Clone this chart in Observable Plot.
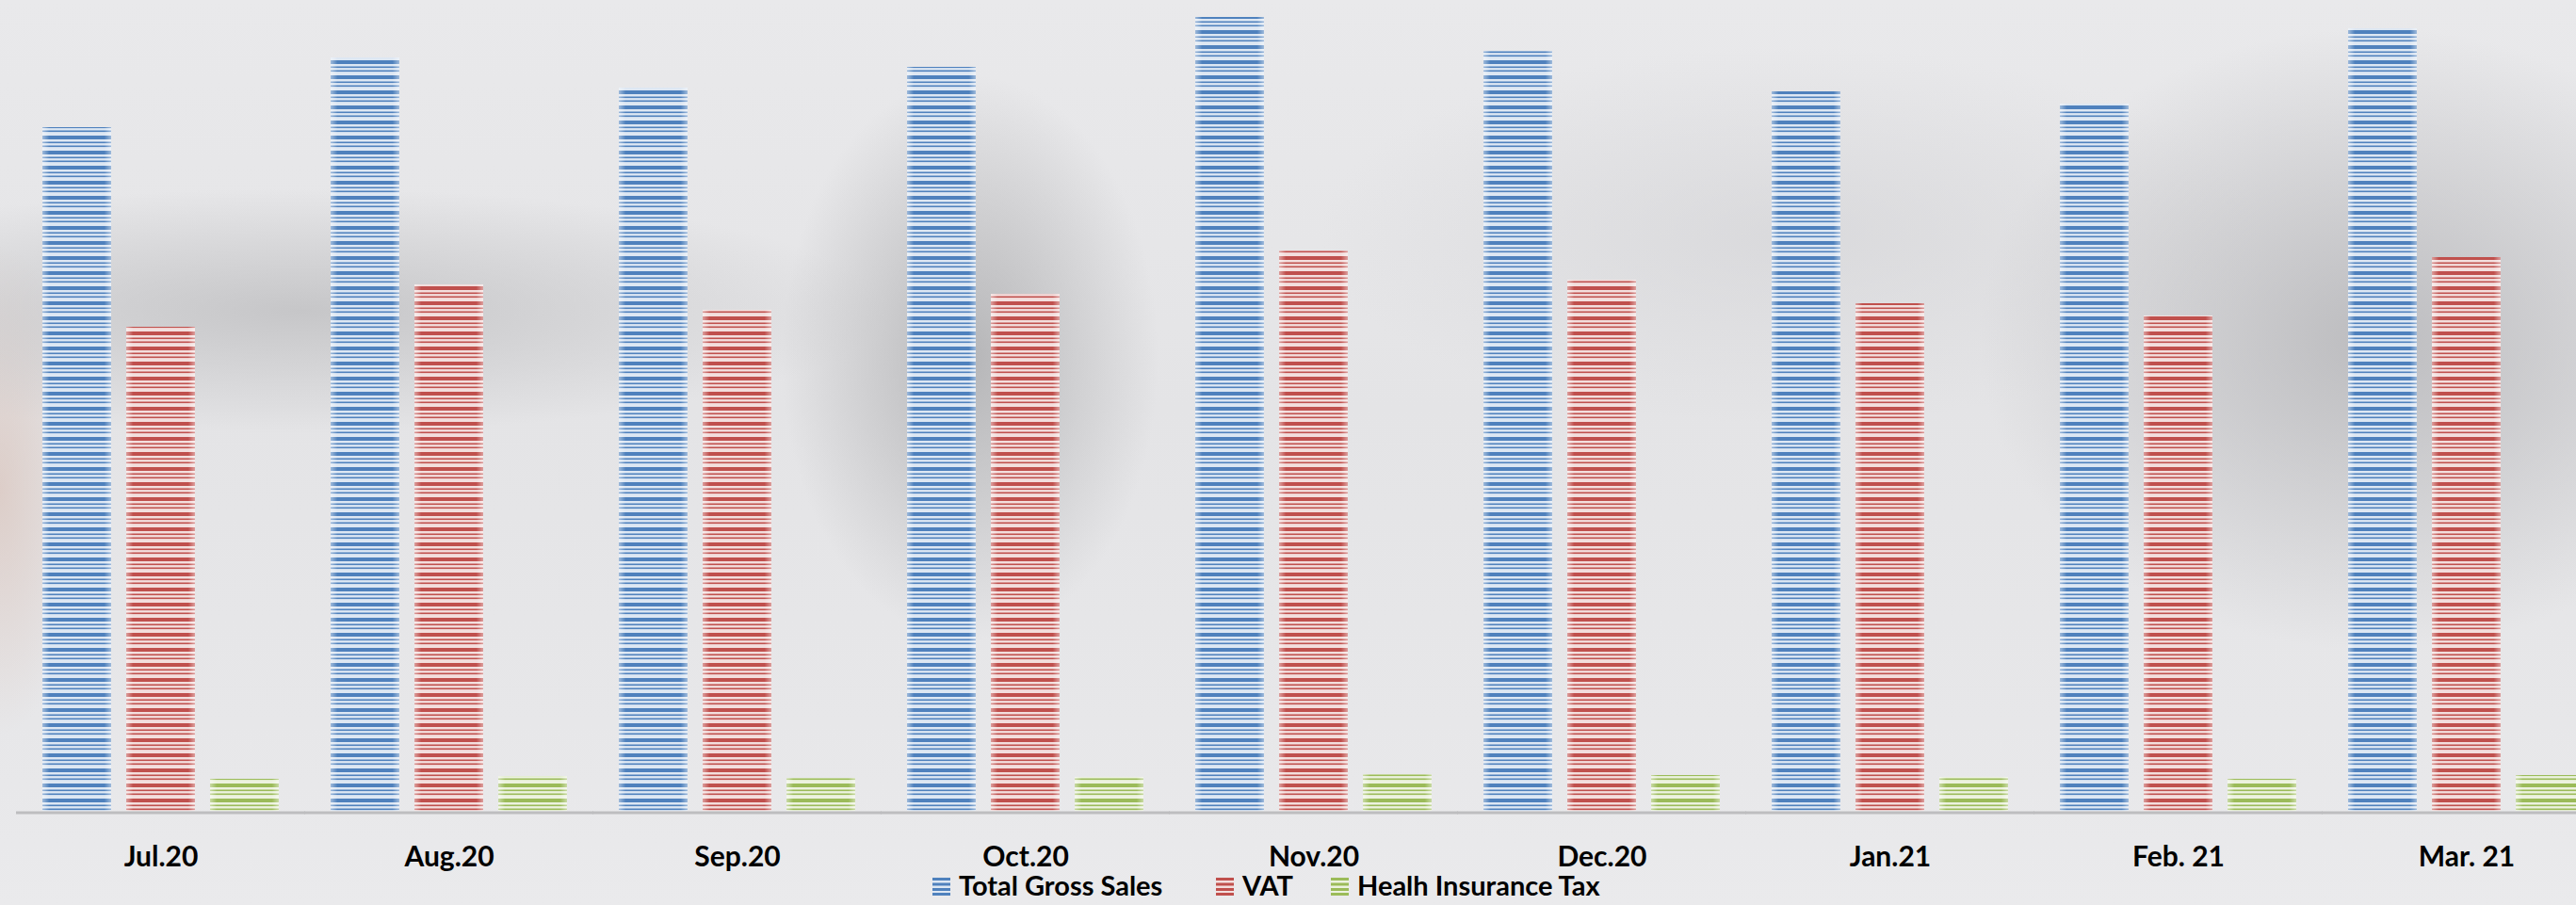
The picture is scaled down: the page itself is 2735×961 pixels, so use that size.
<!DOCTYPE html>
<html>
<head>
<meta charset="utf-8">
<script src="https://cdn.jsdelivr.net/npm/d3@7"></script>
<script src="https://cdn.jsdelivr.net/npm/@observablehq/plot@0.6"></script>
<style>
html, body { margin: 0; padding: 0; width: 2735px; height: 961px; overflow: hidden; }
body {
  position: relative;
  font-family: Lato, "Open Sans", sans-serif;
  background-color: #e6e6e8;
  background-image:
    radial-gradient(ellipse 200px 300px at 1030px 380px, rgba(170,170,172,0.8), rgba(170,170,172,0) 100%),
    radial-gradient(ellipse 420px 330px at 2520px 360px, rgba(178,178,181,0.8), rgba(178,178,181,0) 100%),
    radial-gradient(ellipse 620px 130px at 320px 330px, rgba(185,185,187,0.7), rgba(185,185,187,0) 100%),
    radial-gradient(ellipse 90px 260px at 0px 520px, rgba(215,190,180,0.6), rgba(215,190,180,0) 100%),
    radial-gradient(ellipse 500px 200px at 1900px 250px, rgba(205,205,208,0.5), rgba(205,205,208,0) 100%),
    linear-gradient(to bottom, #e9e9eb 0%, #e4e4e6 45%, #e7e7e9 80%, #eaeaec 100%);
}
#chart { position: absolute; left: 0; top: 0; }
#chart svg { max-width: none; display: block; }
.leg { position: absolute; top: 930px; height: 20px; line-height: 20px; font-size: 29px; font-weight: 700; color: #000; white-space: nowrap; }
.sw { position: absolute; top: 932px; width: 19px; height: 19px; }
</style>
</head>
<body>
<div id="chart"></div>
<div id="legend"></div>
<script>
// ---- data ----
const months = ["Jul.20", "Aug.20", "Sep.20", "Oct.20", "Nov.20", "Dec.20", "Jan.21", "Feb. 21", "Mar. 21"];
const series = ["Total Gross Sales", "VAT", "Healh Insurance Tax"];
const totalGrossSales = [72.6, 80.0, 76.8, 79.0, 84.3, 80.7, 76.4, 75.1, 83.1];
const vat = [51.4, 55.9, 53.2, 54.9, 59.5, 56.4, 53.9, 52.6, 58.8];
const healthInsuranceTax = [3.4, 3.7, 3.5, 3.6, 3.9, 3.8, 3.6, 3.4, 3.8];
const darkColors = ["#4f81bd", "#c0504d", "#9bbb59"];
const lightColors = ["#dde7f3", "#f3dedd", "#ecf2df"];

const seriesValues = [totalGrossSales, vat, healthInsuranceTax];
const data = months.flatMap((m, i) => series.map((s, j) => ({month: m, series: s, value: seriesValues[j][i]})));

const plot = Plot.plot({
  width: 2750,
  height: 961,
  marginLeft: 42,
  marginRight: 4,
  marginTop: 0,
  marginBottom: 100,
  style: {background: "transparent", fontFamily: "Lato, sans-serif", overflow: "hidden"},
  fx: {domain: months, paddingInner: 0.1746, paddingOuter: 0, label: null},
  x: {domain: series, paddingInner: 0.185, paddingOuter: 0, axis: null},
  y: {domain: [0, 86.1], axis: null},
  color: {domain: series, range: series.map((s, i) => `url(#pat${i})`)},
  marks: [
    Plot.barY(data, {fx: "month", x: "series", y: "value", fill: "series"}),
    Plot.barY(data, {fx: "month", x: "series", y: "value", fill: "url(#edgeGlow)"}),
    Plot.ruleY([0], {stroke: "#bdbdbf", strokeWidth: 3, dy: 1.5, insetLeft: -27, insetRight: -27}),
    Plot.axisFx({anchor: "bottom", tickSize: 0, tickPadding: 37, fontSize: 30, fontWeight: "bold", fill: "#000", label: null})
  ]
});

const defs = series.map((s, i) => `
  <pattern id="pat${i}" patternUnits="userSpaceOnUse" width="8" height="16">
    <rect width="8" height="16" fill="${lightColors[i]}"/>
    <rect y="0" width="8" height="4" fill="${darkColors[i]}"/>
    <rect y="6.5" width="8" height="1.6" fill="${darkColors[i]}"/>
    <rect y="10.5" width="8" height="1.6" fill="${darkColors[i]}"/>
  </pattern>`).join("") + `
  <linearGradient id="edgeGlow" x1="0" x2="1" y1="0" y2="0">
    <stop offset="0" stop-color="#ffffff" stop-opacity="0.45"/>
    <stop offset="0.1" stop-color="#ffffff" stop-opacity="0"/>
    <stop offset="0.9" stop-color="#ffffff" stop-opacity="0"/>
    <stop offset="1" stop-color="#ffffff" stop-opacity="0.45"/>
  </linearGradient>`;
d3.select(plot).insert("defs", ":first-child").html(defs);
document.getElementById("chart").appendChild(plot);

// ---- legend ----
const legendLeft = [990, 1291, 1413];
const legend = d3.select("#legend");
series.forEach((s, i) => {
  const sw = legend.append("svg").attr("class", "sw").style("left", legendLeft[i] + "px")
    .attr("viewBox", "0 0 19 19");
  sw.append("rect").attr("width", 19).attr("height", 19).attr("fill", lightColors[i]);
  [0, 5.5, 11, 16].forEach(y => sw.append("rect").attr("y", y).attr("width", 19).attr("height", 3).attr("fill", darkColors[i]));
  legend.append("div").attr("class", "leg").style("left", (legendLeft[i] + 28) + "px").text(s);
});
</script>
</body>
</html>
